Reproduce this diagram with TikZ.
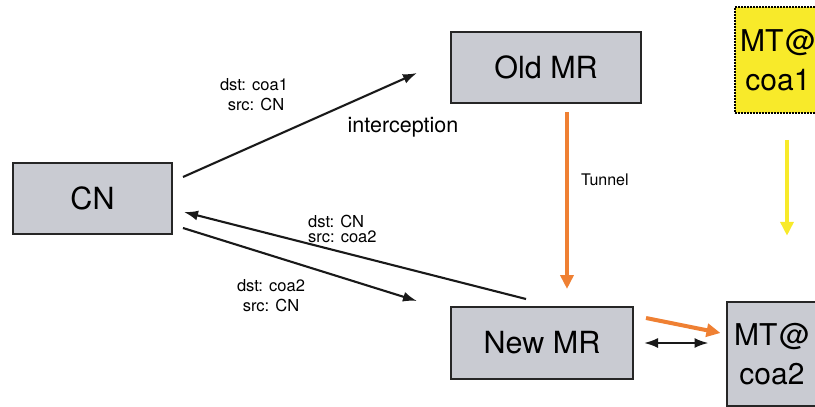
\documentclass[tikz,border=0pt]{standalone}
\usepackage{fontspec}
\setmainfont{TeX Gyre Heros}
\usetikzlibrary{arrows.meta,calc}
\definecolor{boxgray}{HTML}{C9CBD2}
\definecolor{mtyellow}{HTML}{F8EA2A}
\definecolor{tunorange}{HTML}{EF8033}
\begin{document}
\begin{tikzpicture}[x=1pt,y=-1pt,
  box/.style={draw=black!85,line width=2pt,fill=boxgray,inner sep=0pt,font=\fontsize{30.5}{38}\selectfont,align=center},
  lbl/.style={font=\fontsize{16.5}{20}\selectfont,inner sep=0pt,align=center},
  blk/.style={draw=black!90,line width=2.1pt,-{Latex[length=14pt,width=10pt]}},
  org/.style={draw=tunorange,line width=4pt,-{Triangle[length=14pt,width=13pt]}},
  ylw/.style={draw=mtyellow,line width=4pt,-{Triangle[length=14pt,width=13pt]}}]
\useasboundingbox (0,0) rectangle (815,407);
\clip (0,0) rectangle (815,407);
\node[box,minimum width=159pt,minimum height=71pt] (CN) at (92.5,198.5) {CN};
\node[box,minimum width=190pt,minimum height=71pt] (OldMR) at (546,67.5) {Old MR};
\node[box,minimum width=182pt,minimum height=72pt] (NewMR) at (542,343) {New MR};
\node[box,draw=black,densely dotted,line width=1.5pt,fill=mtyellow,minimum width=86pt,minimum height=106pt,font=\fontsize{30}{39}\selectfont] (MT1) at (778,60) {MT\hspace{2pt}@\\coa1};
\node[box,minimum width=91pt,minimum height=104pt,font=\fontsize{30}{39}\selectfont] (MT2) at (772,354) {MT\hspace{2pt}@\\coa2};
% black connectors
\draw[blk] ($(CN.north east)+(10,15)$) -- ($(OldMR.west)+(-33,5.5)$);
\draw[blk] ($(NewMR.north west)+(76,-7)$) -- ($(CN.east)+(11,13.5)$);
\draw[blk] ($(CN.east)+(10,29.5)$) -- ($(NewMR.north west)+(-33,-5)$);
\draw[draw=black!90,line width=2.1pt,{Latex[length=14pt,width=10pt]}-{Latex[length=14pt,width=10pt]}] ($(NewMR.east)+(10,0)$) -- ($(MT2.west)+(-17,-11)$);
% orange and yellow
\draw[org] ($(OldMR.south)+(21,8)$) -- ($(NewMR.north)+(25,-17)$);
\draw[org] ($(NewMR.east)+(12,-25)$) -- ($(MT2.west)+(-5,-21)$);
\draw[ylw] ($(MT1.south)+(9,26)$) -- ($(MT1.south)+(9,122)$);
% labels
\node[lbl] (l1) at (254,95) {dst: coa1\\\hspace*{4pt}src: CN};
\node[lbl,font=\fontsize{21.5}{25}\selectfont] (l2) at (403,127) {interception};
\node[lbl,align=left,anchor=west,font=\fontsize{16.5}{15}\selectfont] (l3) at (308,229) {dst: CN\\src: coa2};
\node[lbl] (l4) at (271,296) {dst: coa2\\src: CN};
\node[lbl,anchor=west,font=\fontsize{16}{19}\selectfont] (l5) at (581,180) {Tunnel};
\end{tikzpicture}
\end{document}
